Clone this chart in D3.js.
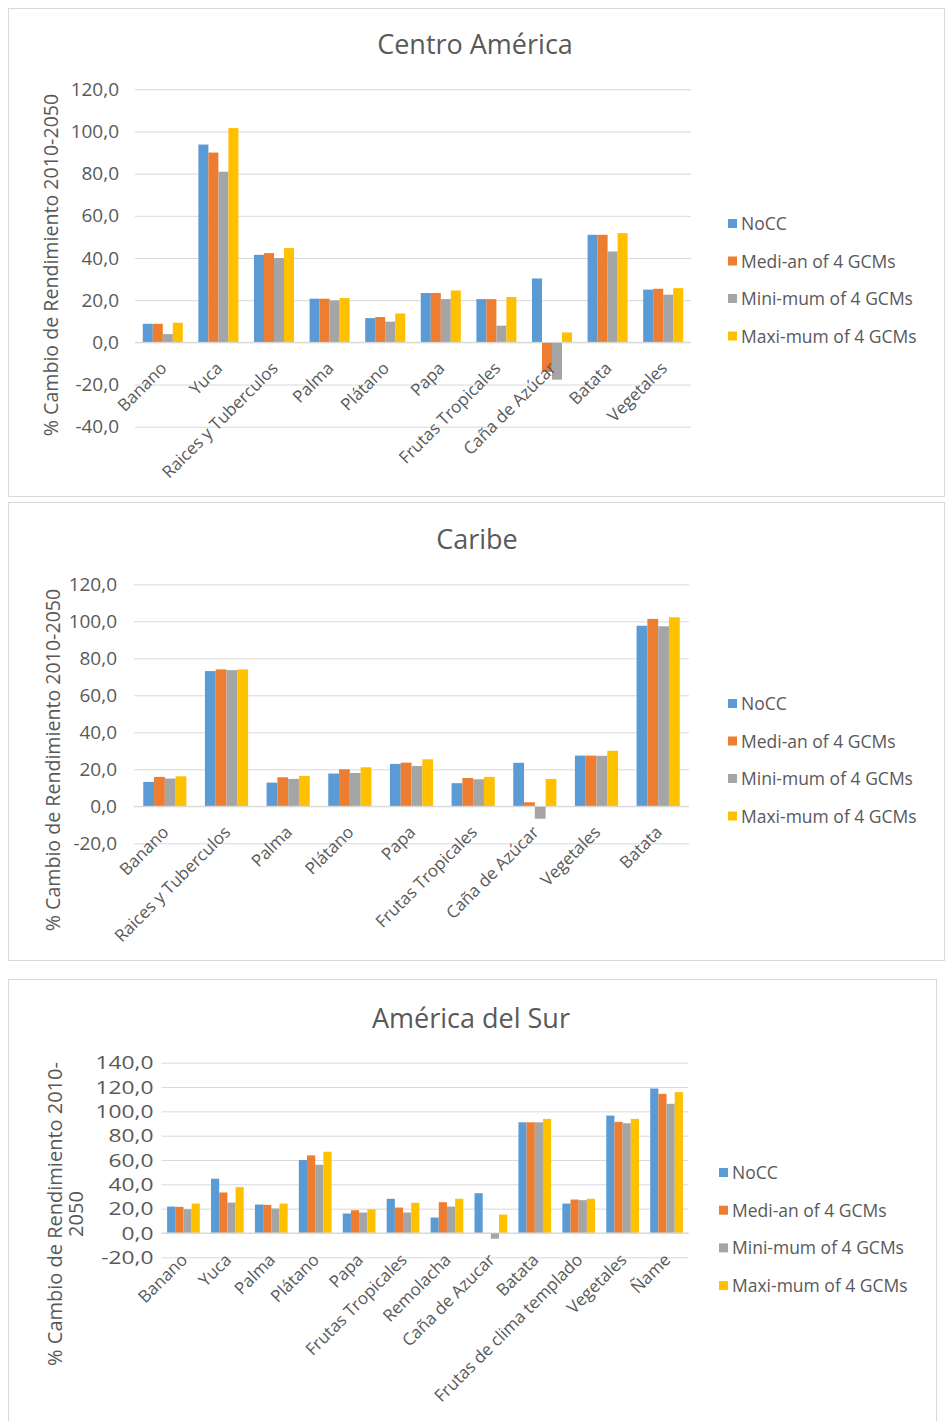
<!DOCTYPE html>
<html>
<head>
<meta charset="utf-8">
<script src="https://cdn.jsdelivr.net/npm/d3@7"></script>
<style>
  html, body { margin: 0; padding: 0; background: #fff; }
  svg { display: block; font-family: "Open Sans", "Noto Sans", sans-serif; }
</style>
</head>
<body>
<svg id="fig" width="946" height="1421"></svg>
<script>
// Series shared by all three regional panels
const seriesNames = ["NoCC", "Medi-an of 4 GCMs", "Mini-mum of 4 GCMs", "Maxi-mum of 4 GCMs"];
const seriesColors = ["#5b9bd5", "#ed7d31", "#a5a5a5", "#ffc000"];

// Centro América
const caCategories = ["Banano", "Yuca", "Raices y Tuberculos", "Palma", "Plátano", "Papa", "Frutas Tropicales", "Caña de Azúcar", "Batata", "Vegetales"];
const caNoCC   = [8.8, 93.8, 41.5, 20.7, 11.5, 23.4, 20.5, 30.3, 51.0, 25.0];
const caMedian = [8.8, 90.0, 42.3, 20.7, 12.0, 23.4, 20.5, -14.0, 51.0, 25.4];
const caMin    = [3.9, 80.9, 40.0, 19.9, 9.8, 20.5, 7.9, -17.7, 43.1, 22.6];
const caMax    = [9.3, 101.6, 44.7, 21.0, 13.7, 24.6, 21.5, 4.7, 51.8, 25.7];
const caTicks  = [-40, -20, 0, 20, 40, 60, 80, 100, 120];

// Caribe
const cbCategories = ["Banano", "Raices y Tuberculos", "Palma", "Plátano", "Papa", "Frutas Tropicales", "Caña de Azúcar", "Vegetales", "Batata"];
const cbNoCC   = [13.2, 73.1, 12.8, 17.7, 22.9, 12.5, 23.5, 27.4, 97.6];
const cbMedian = [15.9, 74.0, 15.7, 20.0, 23.6, 15.3, 2.2, 27.4, 101.3];
const cbMin    = [15.0, 73.6, 14.8, 18.0, 21.8, 14.6, -6.7, 27.3, 97.3];
const cbMax    = [16.2, 74.0, 16.4, 21.1, 25.4, 15.9, 14.8, 30.0, 102.2];
const cbTicks  = [-20, 0, 20, 40, 60, 80, 100, 120];

// América del Sur
const asCategories = ["Banano", "Yuca", "Palma", "Plátano", "Papa", "Frutas Tropicales", "Remolacha", "Caña de Azucar", "Batata", "Frutas de clima templado", "Vegetales", "Ñame"];
const asNoCC   = [21.7, 44.6, 23.4, 60.0, 16.0, 28.1, 12.7, 32.7, 91.0, 24.2, 96.5, 118.8];
const asMedian = [21.5, 33.3, 23.1, 63.8, 18.7, 20.9, 25.3, 0.0, 91.0, 27.5, 91.3, 114.4];
const asMin    = [19.5, 25.0, 20.1, 56.1, 16.8, 16.8, 21.7, -4.7, 91.0, 27.0, 90.2, 106.2];
const asMax    = [24.2, 37.7, 24.2, 66.8, 19.5, 24.8, 28.1, 15.1, 93.8, 28.1, 93.8, 115.8];
const asTicks  = [-20, 0, 20, 40, 60, 80, 100, 120, 140];

const svg = d3.select("#fig");
const fmt = v => d3.format(".1f")(v).replace(".", ",").replace("\u2212", "-");
const textColor = "#595959";

function drawPanel(cfg) {
  const g = svg.append("g");

  // panel frame
  g.append("rect")
    .attr("x", cfg.frame[0] + 0.5).attr("y", cfg.frame[1] + 0.5)
    .attr("width", cfg.frame[2]).attr("height", cfg.frame[3])
    .attr("fill", "#fff").attr("stroke", "#d9d9d9").attr("stroke-width", 1);

  // title
  g.append("text")
    .attr("x", cfg.titleX).attr("y", cfg.titleY)
    .attr("text-anchor", "middle")
    .attr("font-size", 27).attr("fill", textColor)
    .text(cfg.title);

  const y = d3.scaleLinear().domain(cfg.yDomain).range(cfg.yRange);
  const x = d3.scaleBand().domain(cfg.categories).range(cfg.xRange)
    .paddingInner(cfg.gap).paddingOuter(cfg.gap / 2);
  const xs = d3.scaleBand().domain(d3.range(4)).range([0, x.bandwidth()]);

  // gridlines + tick labels
  const yAxis = d3.axisLeft(y).tickValues(cfg.ticks).tickFormat(fmt)
    .tickSize(-(cfg.xRange[1] - cfg.xRange[0])).tickPadding(cfg.tickPad);
  const ax = g.append("g").attr("transform", `translate(${cfg.xRange[0]},0)`).call(yAxis);
  ax.select(".domain").remove();
  ax.selectAll(".tick line").attr("stroke", "#d9d9d9").attr("stroke-width", 1);
  ax.selectAll(".tick text").attr("fill", textColor).attr("font-size", 19)
    .attr("font-family", "'Open Sans', sans-serif")
    .attr("x", -cfg.tickPad / cfg.tickStretch)
    .attr("transform", `scale(${cfg.tickStretch},1)`);

  // bars
  const rows = cfg.categories.map((c, i) => ({ c, vals: cfg.series.map(s => s[i]) }));
  const grp = g.selectAll(".cat").data(rows).join("g")
    .attr("transform", d => `translate(${x(d.c)},0)`);
  grp.selectAll("rect").data(d => d.vals.map((v, k) => ({ v, k }))).join("rect")
    .attr("x", d => xs(d.k))
    .attr("width", xs.bandwidth())
    .attr("y", d => y(Math.max(0, d.v)))
    .attr("height", d => Math.abs(y(d.v) - y(0)))
    .attr("fill", d => seriesColors[d.k]);

  // zero line
  g.append("line")
    .attr("x1", cfg.xRange[0]).attr("x2", cfg.xRange[1])
    .attr("y1", y(0)).attr("y2", y(0))
    .attr("stroke", "#d9d9d9").attr("stroke-width", 1);

  // category labels, rotated below the zero line
  g.selectAll(".cl").data(cfg.categories).join("text")
    .attr("transform", c => `translate(${x(c) + x.bandwidth() / 2 + cfg.labelDx},${y(0) + cfg.labelDy}) rotate(-45)`)
    .attr("text-anchor", "end")
    .attr("font-size", 17).attr("fill", textColor)
    .text(c => c);

  // y-axis title
  const yt = g.append("text")
    .attr("transform", `translate(${cfg.yTitleX},${cfg.yTitleY}) rotate(-90)`)
    .attr("text-anchor", "middle")
    .attr("font-size", cfg.yTitleSize).attr("fill", textColor);
  cfg.yTitle.forEach((line, i) => {
    yt.append("tspan").attr("x", 0).attr("dy", i === 0 ? 0 : 21).text(line);
  });

  // legend
  seriesNames.forEach((name, k) => {
    const ly = cfg.legendY + k * cfg.legendStep;
    g.append("rect").attr("x", cfg.legendX).attr("y", ly - 5).attr("width", 9).attr("height", 9)
      .attr("fill", seriesColors[k]);
    g.append("text").attr("x", cfg.legendX + 13).attr("y", ly + 6)
      .attr("font-size", 17.5).attr("fill", textColor).text(name);
  });
}

drawPanel({
  title: "Centro América", titleX: 475, titleY: 54,
  frame: [8, 8, 936, 488],
  categories: caCategories, series: [caNoCC, caMedian, caMin, caMax],
  yDomain: [-40, 120], yRange: [426.7, 89.3], ticks: caTicks,
  xRange: [135, 691], gap: 0.28, tickPad: 16, tickStretch: 1,
  labelDx: 5, labelDy: 27,
  yTitle: ["% Cambio de Rendimiento 2010-2050"], yTitleX: 58, yTitleY: 265, yTitleSize: 19.6,
  legendX: 728, legendY: 224, legendStep: 37.5
});

drawPanel({
  title: "Caribe", titleX: 477, titleY: 549,
  frame: [8, 502, 936, 458],
  categories: cbCategories, series: [cbNoCC, cbMedian, cbMin, cbMax],
  yDomain: [-20, 120], yRange: [843.3, 584.3], ticks: cbTicks,
  xRange: [134, 689], gap: 0.30, tickPad: 17, tickStretch: 1,
  labelDx: 5, labelDy: 27,
  yTitle: ["% Cambio de Rendimiento 2010-2050"], yTitleX: 60, yTitleY: 760, yTitleSize: 19.6,
  legendX: 728, legendY: 704, legendStep: 37.5
});

drawPanel({
  title: "América del Sur", titleX: 471, titleY: 1028,
  frame: [8, 979, 928, 460],
  categories: asCategories, series: [asNoCC, asMedian, asMin, asMax],
  yDomain: [-20, 140], yRange: [1257.3, 1062.7], ticks: asTicks,
  xRange: [161.5, 688.5], gap: 0.255, tickPad: 8, tickStretch: 1.2,
  labelDx: 5, labelDy: 28,
  yTitle: ["% Cambio de Rendimiento 2010-", "2050"], yTitleX: 62, yTitleY: 1214, yTitleSize: 20,
  legendX: 719, legendY: 1173, legendStep: 37.7
});
</script>
</body>
</html>
